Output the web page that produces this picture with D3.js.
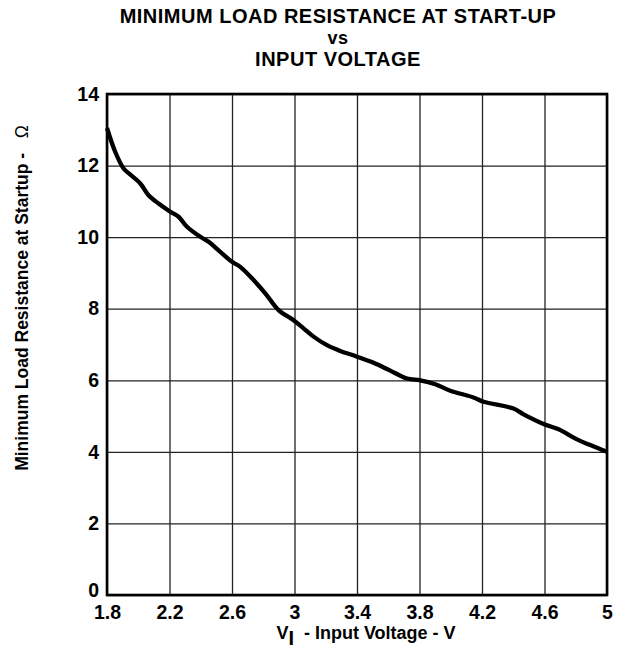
<!DOCTYPE html>
<html>
<head>
<meta charset="utf-8">
<script src="https://cdnjs.cloudflare.com/ajax/libs/d3/7.8.5/d3.min.js"></script>
<style>
  body { margin: 0; background: #fff; }
  text { font-family: Arial, "Liberation Sans", sans-serif; font-weight: bold; fill: #000; }
</style>
</head>
<body>
<svg width="624" height="660"></svg>
<script>
// curve
var voltage = [1.8, 1.853, 1.906, 1.94, 2.013, 2.066, 2.13, 2.205, 2.258, 2.312, 2.397, 2.45,
    2.525, 2.6, 2.653, 2.738, 2.813, 2.898, 2.994, 3.058, 3.122, 3.208, 3.293, 3.4, 3.506,
    3.613, 3.72, 3.805, 3.901, 3.997, 4.146, 4.21, 4.402, 4.466, 4.594, 4.69, 4.808, 4.893, 5.0];
var resistance = [13.05, 12.38, 11.92, 11.78, 11.5, 11.17, 10.94, 10.71, 10.57, 10.29, 10.01, 9.87,
    9.59, 9.31, 9.17, 8.8, 8.43, 7.96, 7.68, 7.45, 7.22, 6.98, 6.82, 6.66, 6.49,
    6.27, 6.05, 6.0, 5.89, 5.71, 5.52, 5.4, 5.21, 5.05, 4.78, 4.63, 4.35, 4.19, 4.0];
var xTicks = [1.8, 2.2, 2.6, 3, 3.4, 3.8, 4.2, 4.6, 5];
var yTicks = [0, 2, 4, 6, 8, 10, 12, 14];
var titleLines = ['MINIMUM LOAD RESISTANCE AT START-UP', 'vs', 'INPUT VOLTAGE'];

var svg = d3.select('svg');
var padding = {top: 94, bottom: 65, right: 17, left: 107};
var width = +svg.attr('width');
var height = +svg.attr('height');
var myWidth = width - (padding.left + padding.right);
var myHeight = height - (padding.top + padding.bottom);

var chartG = svg.append('g')
    .attr('transform', 'translate(' + [padding.left, padding.top] + ')');

var xScale = d3.scaleLinear().domain([1.8, 5]).range([0, myWidth]);
var yScale = d3.scaleLinear().domain([0, 14]).range([myHeight, 0]);

// grid
var xGrid = d3.axisBottom(xScale).tickValues(xTicks).tickSize(-myHeight).tickFormat('');
var yGrid = d3.axisLeft(yScale).tickValues(yTicks).tickSize(-myWidth).tickFormat('');
chartG.append('g').attr('class', 'grid')
    .attr('transform', 'translate(0,' + myHeight + ')')
    .call(xGrid);
chartG.append('g').attr('class', 'grid')
    .call(yGrid);
chartG.selectAll('.grid .domain').remove();
chartG.selectAll('.grid line').attr('stroke', '#222').attr('stroke-width', 1.3);

// tick labels
var xAxis = chartG.append('g')
    .attr('transform', 'translate(0,' + myHeight + ')')
    .call(d3.axisBottom(xScale).tickValues(xTicks).tickSize(0).tickPadding(10)
        .tickFormat(function(d) { return String(d); }));
var yAxis = chartG.append('g')
    .call(d3.axisLeft(yScale).tickValues(yTicks).tickSize(0).tickPadding(8)
        .tickFormat(function(d) { return String(d); }));
chartG.selectAll('.domain').remove();
xAxis.selectAll('text').style('font-size', '19.5px');
yAxis.selectAll('text').style('font-size', '19.5px');
// the "0" sits a little above the corner, as in the original
yAxis.selectAll('.tick text')
    .filter(function(d) { return d === 0; })
    .attr('y', -5);

// frame
chartG.append('rect')
    .attr('width', myWidth)
    .attr('height', myHeight)
    .attr('fill', 'none')
    .attr('stroke', '#000')
    .attr('stroke-width', 2.6);

// curve
var line = d3.line()
    .x(function(d) { return xScale(d[0]); })
    .y(function(d) { return yScale(d[1]); })
    .curve(d3.curveCatmullRom);
chartG.append('path')
    .datum(d3.zip(voltage, resistance))
    .attr('d', line)
    .attr('fill', 'none')
    .attr('stroke', '#000')
    .attr('stroke-width', 4.3)
    .attr('stroke-linejoin', 'round');

// title
var titleY = [23, 44, 66];
svg.selectAll('.title')
    .data(titleLines)
    .enter()
    .append('text')
    .attr('class', 'title')
    .attr('x', 338)
    .attr('y', function(d, i) { return titleY[i]; })
    .attr('text-anchor', 'middle')
    .style('font-size', function(d, i) { return i == 1 ? '18px' : '20px'; })
    .style('letter-spacing', '0.5px')
    .text(function(d) { return d; });

// x axis label
var xLabel = svg.append('text')
    .attr('x', 366)
    .attr('y', 639)
    .attr('text-anchor', 'middle')
    .attr('xml:space', 'preserve')
    .style('font-size', '18px');
xLabel.append('tspan').text('V');
xLabel.append('tspan').attr('dy', 6).style('font-size', '20px').text('I');
xLabel.append('tspan').attr('dy', -6).text('  - Input Voltage - V');

// y axis label
var yLabel = svg.append('text')
    .attr('transform', 'translate(28,298) rotate(-90)')
    .attr('text-anchor', 'middle')
    .attr('xml:space', 'preserve')
    .style('font-size', '17.5px');
yLabel.append('tspan').text('Minimum Load Resistance at Startup -   ');
yLabel.append('tspan').style('font-weight', 'normal').text('\u03A9');
</script>
</body>
</html>
